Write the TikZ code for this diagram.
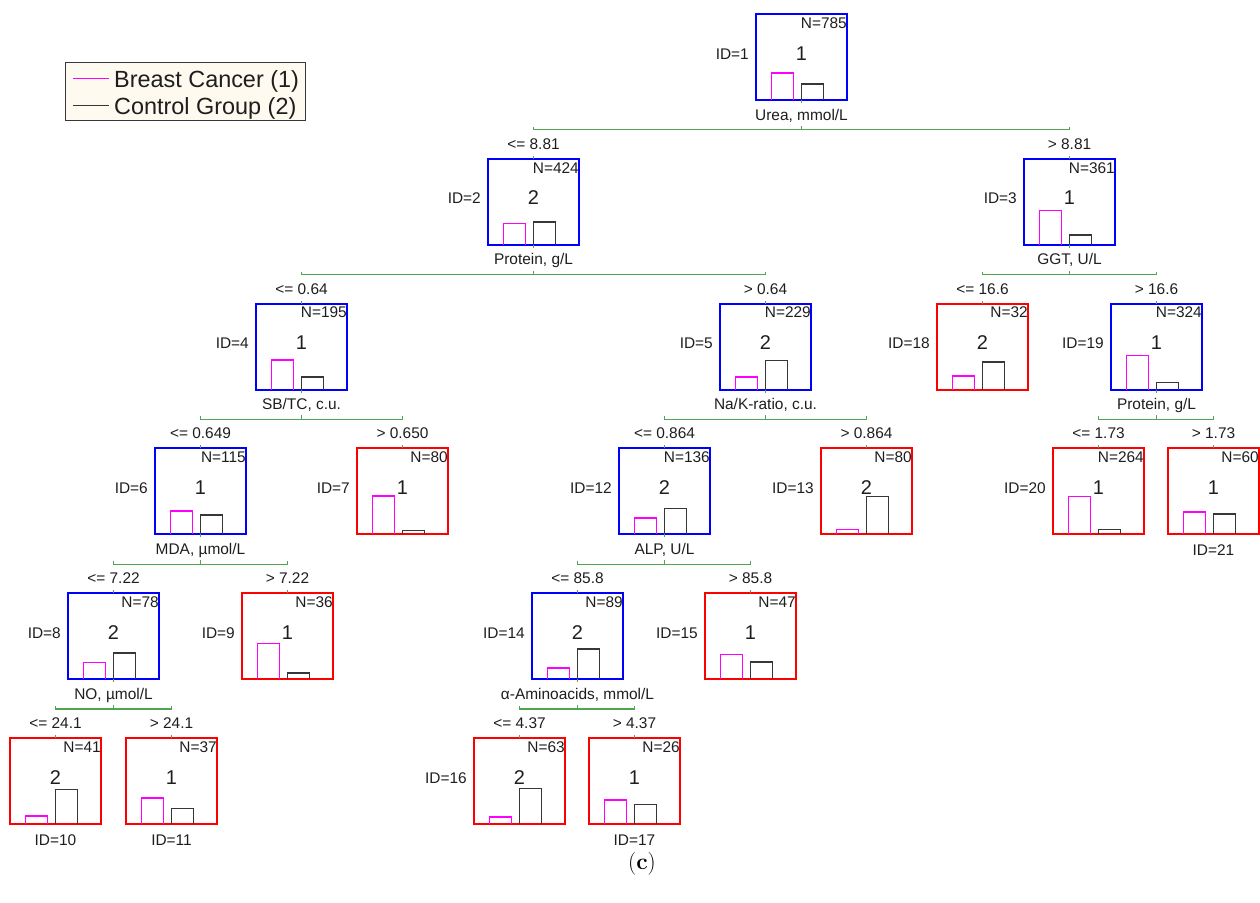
\documentclass[tikz,border=0pt]{standalone}
\usepackage{fontspec}
\newfontfamily\arialfont{Liberation Sans}
\usetikzlibrary{calc}
\definecolor{splitblue}{RGB}{0,0,255}
\definecolor{termred}{RGB}{255,0,0}
\definecolor{bcmagenta}{RGB}{255,0,255}
\definecolor{cggray}{RGB}{55,55,55}
\definecolor{branchgreen}{RGB}{80,165,80}
\definecolor{legfill}{RGB}{255,250,240}
\definecolor{txtgray}{RGB}{30,30,30}
\begin{document}
\begin{tikzpicture}[x=1bp,y=-1bp,line join=miter,
  splitbox/.style={draw=splitblue,line width=2bp,minimum width=91bp,minimum height=86bp,inner sep=0pt,outer sep=0pt},
  termbox/.style={splitbox,draw=termred},
  bcbar/.style={color=bcmagenta,line width=1.7bp},
  cgbar/.style={color=cggray,line width=1.5bp},
  branch/.style={draw=branchgreen,line width=1.1bp},
  txt/.style={inner sep=0pt,text=txtgray,font=\arialfont\fontsize{15.5}{18}\selectfont},
  nlab/.style={txt,anchor=base east},
  clslab/.style={txt,anchor=base,font=\arialfont\fontsize{20}{24}\selectfont},
  idwest/.style={txt,anchor=base east,xshift=-7bp,yshift=-2bp},
  idsouth/.style={txt,anchor=base,yshift=-21bp},
  varlab/.style={txt,anchor=base},
  condlab/.style={txt,anchor=base},
  legtext/.style={txt,anchor=base west,font=\arialfont\fontsize{23.5}{28}\selectfont}]
  \useasboundingbox (0,0) rectangle (1260,903);

  % legend
  \node[draw=cggray,fill=legfill,line width=1bp,minimum width=240bp,minimum height=58bp,inner sep=0pt] (legend) at (185.5,91.5) {};
  \node[legtext] (bc) at (114,87.3) {Breast Cancer (1)};
  \node[legtext] (cg) at (114,114.7) {Control Group (2)};
  \draw[bcmagenta,line width=1.2bp] ($(bc.base west)+(-41,-9)$) -- ++(36,0);
  \draw[cggray,line width=1.2bp] ($(cg.base west)+(-41,-9)$) -- ++(36,0);

  % tree nodes: id / centre x / level / N / class / bar heights / box / ID side
  \foreach \id/\cx/\lev/\nn/\cls/\mh/\bh/\kind/\idpos in {
    1/801.5/0/785/1/27/16/splitbox/west,
    2/533.5/1/424/2/21.3/22.7/splitbox/west,
    3/1069.5/1/361/1/34.3/9.6/splitbox/west,
    4/301.5/2/195/1/29.3/12.6/splitbox/west,
    5/765.5/2/229/2/12.6/29.3/splitbox/west,
    18/982.5/2/32/2/13.6/27.6/termbox/west,
    19/1156.5/2/324/1/34/7/splitbox/west,
    6/200.5/3/115/1/23.3/19.3/splitbox/west,
    7/402.5/3/80/1/38.7/4/termbox/west,
    12/664.5/3/136/2/16.7/26/splitbox/west,
    13/866.5/3/80/2/5/37.7/termbox/west,
    20/1098.5/3/264/1/38/4.7/termbox/west,
    21/1213.5/3/60/1/22.3/20.3/termbox/south,
    8/113.5/4/78/2/16.7/26/splitbox/west,
    9/287.5/4/36/1/35.7/6.3/termbox/west,
    14/577.5/4/89/2/11/30.3/splitbox/west,
    15/750.5/4/47/1/24.6/17/termbox/west,
    10/55.5/5/41/2/7.7/34.3/termbox/south,
    11/171.5/5/37/1/26.3/15.7/termbox/south,
    16/519.5/5/63/2/7/35.7/termbox/west,
    17/634.5/5/26/1/23.7/19.7/termbox/south}{
    \node[\kind] (n\id) at (\cx,{57+144.8*\lev}) {};
    \draw[bcbar] ($(n\id.south west)+(15.5,0)$) -- ++(0,-\mh) -- ++(22,0) -- ++(0,\mh);
    \draw[cgbar] (n\id.south) -- ++(0,-\bh) -- ++(22,0) -- ++(0,\bh);
    \node[nlab] (N\id) at ($(n\id.north east)+(0,14.3)$) {N=\nn};
    \node[clslab] (k\id) at ($(n\id.north)+(0,46)$) {\cls};
    \node[id\idpos] (id\id) at (n\id.\idpos) {ID=\id};
  }

  % splitting variables
  \foreach \id/\txt in {1/{Urea, mmol/L},2/{Protein, g/L},3/{GGT, U/L},4/{SB/TC, c.u.},
    5/{Na/K-ratio, c.u.},19/{Protein, g/L},6/{MDA, µmol/L},12/{ALP, U/L},
    8/{NO, µmol/L},14/{α-Aminoacids, mmol/L}}
    \node[varlab] (v\id) at ($(n\id.south)+(0,20)$) {\txt};

  % split conditions
  \foreach \id/\txt in {2/{<= 8.81},3/{> 8.81},4/{<= 0.64},5/{> 0.64},18/{<= 16.6},19/{> 16.6},
    6/{<= 0.649},7/{> 0.650},12/{<= 0.864},13/{> 0.864},20/{<= 1.73},21/{> 1.73},
    8/{<= 7.22},9/{> 7.22},14/{<= 85.8},15/{> 85.8},10/{<= 24.1},11/{> 24.1},
    16/{<= 4.37},17/{> 4.37}}
    \node[condlab] (c\id) at ($(n\id.north)+(0,-9.5)$) {\txt};

  % branches
  \foreach \p/\l/\r in {1/2/3,2/4/5,3/18/19,4/6/7,5/12/13,19/20/21,6/8/9,12/14/15,8/10/11,14/16/17}{
    \coordinate (j\p) at ($(n\l.north)+(0,-29)$);
    \draw[branch] ($(n\l.north)+(0,-32)$) -- (j\p) -- (n\r.north |- j\p) -- ++(0,-3);
    \draw[branch] (n\p.south) -- ++(0,3);
    \draw[branch] (n\p.south |- j\p) -- ++(0,-4);
    \draw[branch] (n\l.north) -- ++(0,-3);
    \draw[branch] (n\r.north) -- ++(0,-3);
  }

  \node[inner sep=0pt,anchor=base] (cap) at (642,869) {\fontsize{23}{27}\selectfont(\textbf{c})};
\end{tikzpicture}
\end{document}
